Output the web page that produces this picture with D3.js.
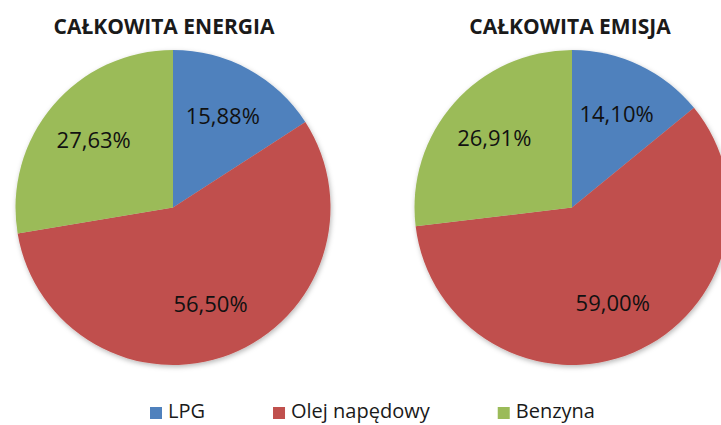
<!DOCTYPE html>
<html>
<head>
<meta charset="utf-8">
<script src="https://cdn.jsdelivr.net/npm/d3@7.9.0/dist/d3.min.js"></script>
<style>
  html, body { margin: 0; padding: 0; background: #fff; }
  svg { display: block; font-family: "Open Sans", sans-serif; }
</style>
</head>
<body>
<svg id="chart" width="721" height="425"></svg>
<script>
// data
const categories = ['LPG', 'Olej napędowy', 'Benzyna'];
const energia = [15.88, 56.50, 27.63];
const emisja = [14.10, 59.00, 26.91];
const titles = ['CAŁKOWITA ENERGIA', 'CAŁKOWITA EMISJA'];

const colors = d3.scaleOrdinal()
  .domain(categories)
  .range(['#4F81BD', '#C0504D', '#9BBB59']);

const svg = d3.select('#chart');

// soft shadow like the office chart
const defs = svg.append('defs');
defs.append('filter')
  .attr('id', 'shadow')
  .attr('x', '-10%').attr('y', '-10%')
  .attr('width', '120%').attr('height', '120%')
  .append('feDropShadow')
  .attr('dx', 1).attr('dy', 2)
  .attr('stdDeviation', 2.5)
  .attr('flood-color', '#000')
  .attr('flood-opacity', 0.28);

const radius = 157.5;
const pies = [
  { values: energia, title: titles[0], cx: 173, cy: 207.5, titleX: 164 },
  { values: emisja, title: titles[1], cx: 572, cy: 207.5, titleX: 570 }
];

const pie = d3.pie().sort(null).value(d => d.value);
const arc = d3.arc().innerRadius(0).outerRadius(radius);
const labelArc = d3.arc().innerRadius(radius * 0.66).outerRadius(radius * 0.66);
const fmt = v => d3.format('.2f')(v).replace('.', ',') + '%';

pies.forEach(p => {
  const data = categories.map((c, i) => ({ label: c, value: p.values[i] }));
  const arcs = pie(data);

  svg.append('text')
    .attr('x', p.titleX)
    .attr('y', 34)
    .attr('text-anchor', 'middle')
    .attr('font-size', 21)
    .attr('font-weight', 'bold')
    .attr('fill', '#1a1a1a')
    .text(p.title);

  const g = svg.append('g')
    .attr('transform', `translate(${p.cx},${p.cy})`);

  g.append('g')
    .attr('filter', 'url(#shadow)')
    .selectAll('path')
    .data(arcs)
    .join('path')
    .attr('d', arc)
    .attr('fill', d => colors(d.data.label));

  g.selectAll('text')
    .data(arcs)
    .join('text')
    .attr('transform', d => `translate(${labelArc.centroid(d)})`)
    .attr('text-anchor', 'middle')
    .attr('dy', '0.36em')
    .attr('font-size', 22)
    .attr('fill', '#111')
    .text(d => fmt(d.data.value));
});

// legend
const legend = svg.append('g').attr('transform', 'translate(150,0)');
let lx = 0;
categories.forEach(c => {
  const item = legend.append('g').attr('transform', `translate(${lx},0)`);
  item.append('rect')
    .attr('x', 0).attr('y', 407)
    .attr('width', 12).attr('height', 12)
    .attr('fill', colors(c));
  const t = item.append('text')
    .attr('x', 18).attr('y', 418)
    .attr('font-size', 20)
    .attr('fill', '#1a1a1a')
    .text(c);
  lx += 18 + t.node().getComputedTextLength() + 68;
});
</script>
</body>
</html>
